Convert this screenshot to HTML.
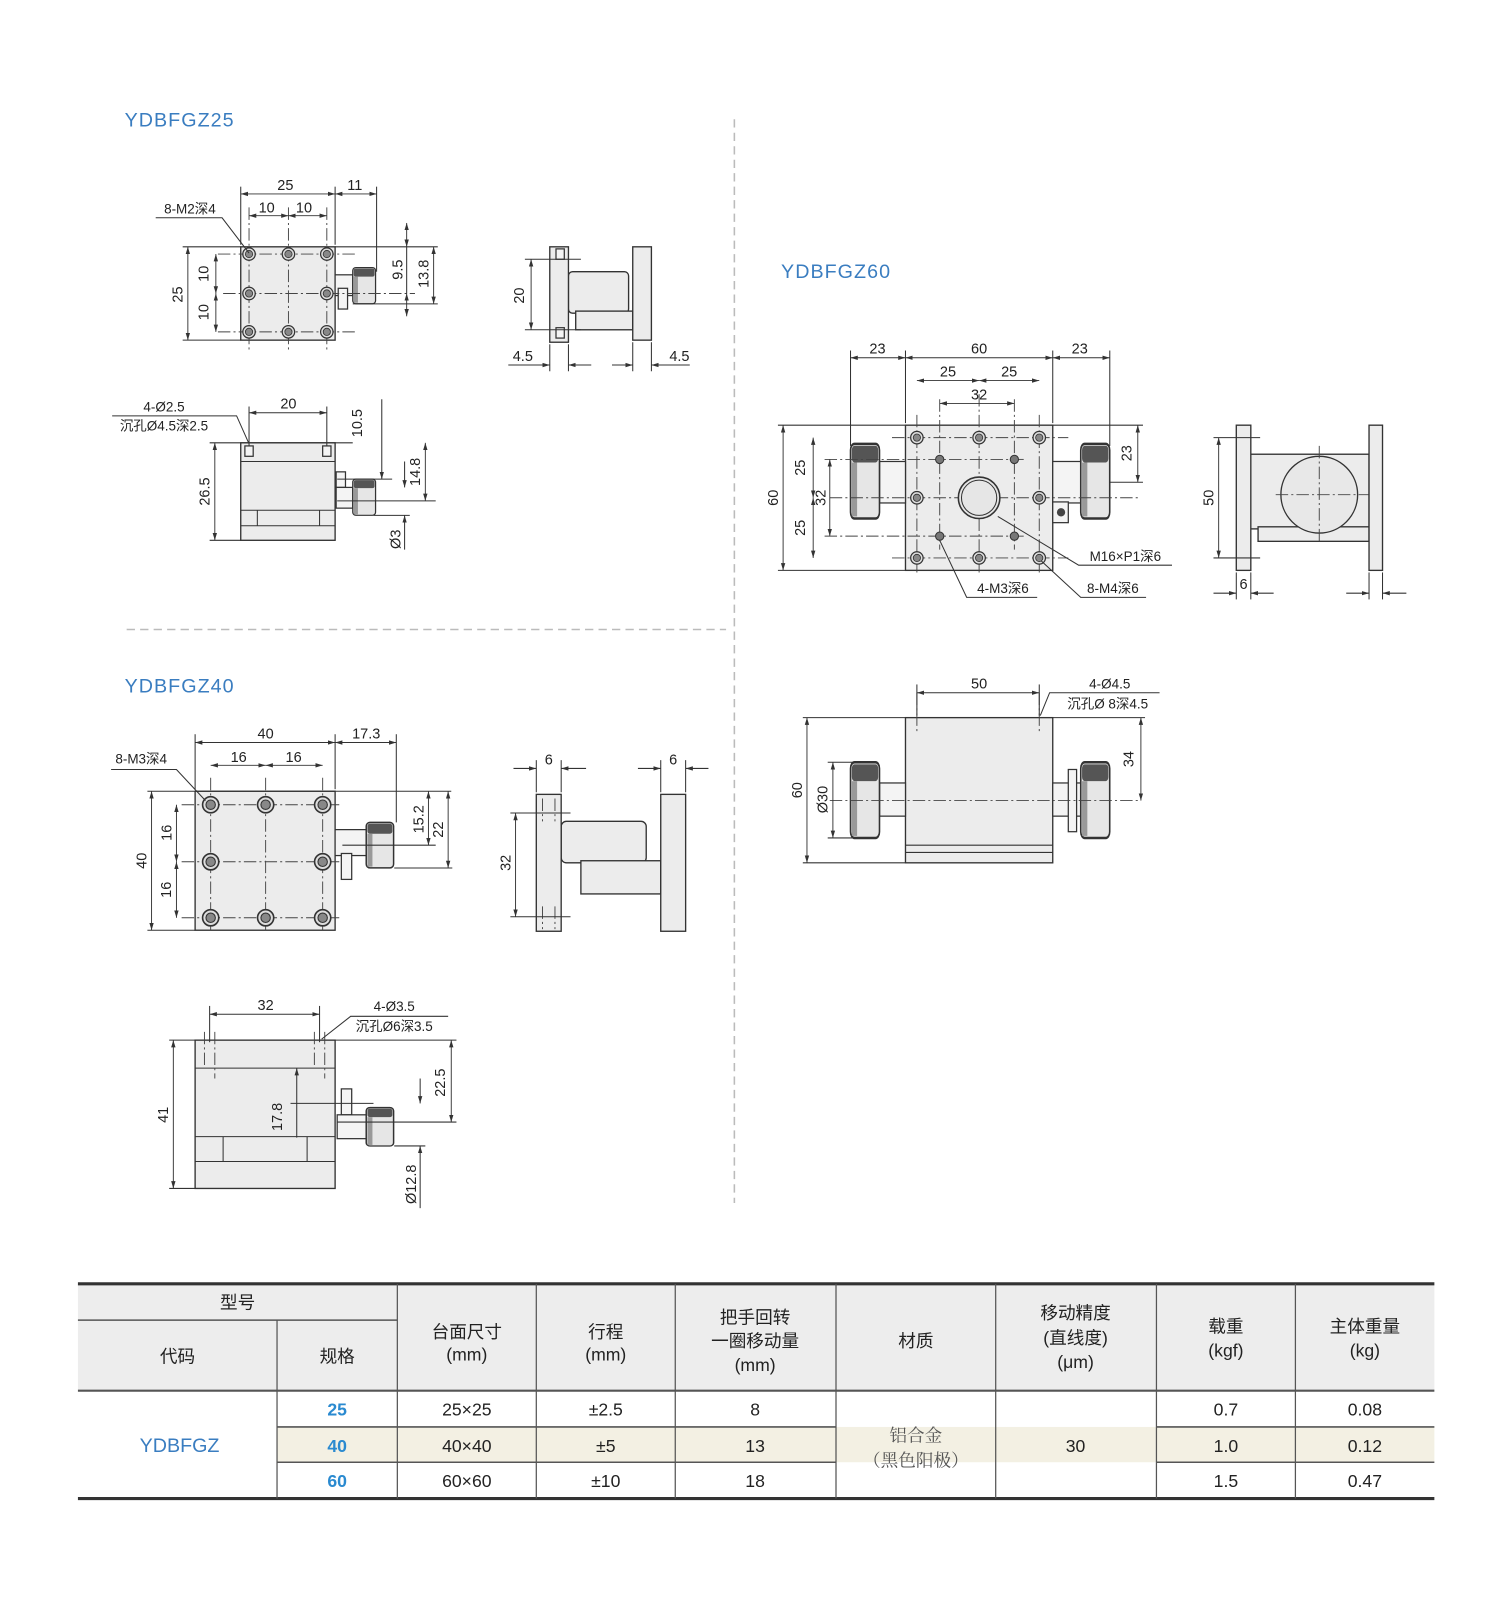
<!DOCTYPE html>
<html><head><meta charset="utf-8"><style>
html,body{margin:0;padding:0;background:#fff;}
svg{display:block;}
text{font-family:"Liberation Sans","Noto Sans CJK SC",sans-serif;fill:#222;}
.b{fill:#ececec;stroke:#333;stroke-width:1.3;}
.w{fill:#f4f4f4;stroke:#333;stroke-width:1.2;}
.l{stroke:#333;stroke-width:1;fill:none;}
.d{stroke:#333;stroke-width:0.9;fill:none;marker-start:url(#a);marker-end:url(#a);}
.c{stroke:#444;stroke-width:0.9;fill:none;stroke-dasharray:12 3 2 3;}
.t{font-size:14px;text-anchor:middle;}
.ti{font-size:19px;fill:#3a7dc0;letter-spacing:1px;}
.h{fill:#e4e4e4;stroke:#333;stroke-width:1.3;}
.th{font-size:17px;text-anchor:middle;}
</style></head><body>
<svg width="1504" height="1624" viewBox="0 0 1450 1566" xmlns="http://www.w3.org/2000/svg">
<defs>
<marker id="a" viewBox="0 0 10 10" refX="10" refY="5" markerWidth="7" markerHeight="7" orient="auto-start-reverse" markerUnits="userSpaceOnUse"><path d="M0,2 L10,5 L0,8 z" fill="#333"/></marker>
<g id="knob"><rect x="0" y="0" width="22" height="36" rx="3" fill="#e6e6e6" stroke="#333" stroke-width="1.2"/><rect x="1" y="1" width="20" height="8" rx="2" fill="#555"/><rect x="1" y="9" width="4" height="26" fill="#999"/></g>
<g id="hole"><circle r="6" fill="#ddd" stroke="#333" stroke-width="1.2"/><circle r="3.5" fill="#888" stroke="#333" stroke-width="0.8"/></g>
</defs>

<!-- separators -->
<line x1="122" y1="607" x2="700" y2="607" stroke="#bbb" stroke-width="1.5" stroke-dasharray="8 5"/>
<line x1="708" y1="115" x2="708" y2="1160" stroke="#bbb" stroke-width="1.5" stroke-dasharray="8 5"/>

<!-- ================= YDBFGZ25 ================= -->
<text class="ti" x="120" y="122">YDBFGZ25</text>
<!-- top view -->
<rect class="b" x="232" y="238" width="91" height="90"/>
<rect class="w" x="323" y="265" width="17" height="20"/>
<use href="#knob" transform="translate(340,258) scale(1,0.97)"/>
<rect class="w" x="326" y="278" width="9" height="20"/>
<line class="c" x1="210" y1="245" x2="345" y2="245"/><line class="c" x1="210" y1="320" x2="345" y2="320"/>
<line class="c" x1="215" y1="283" x2="400" y2="283"/>
<line class="c" x1="240" y1="200" x2="240" y2="340"/><line class="c" x1="278" y1="200" x2="278" y2="340"/><line class="c" x1="315" y1="200" x2="315" y2="340"/>
<use href="#hole" x="240" y="245"/><use href="#hole" x="278" y="245"/><use href="#hole" x="315" y="245"/>
<use href="#hole" x="240" y="283"/><use href="#hole" x="315" y="283"/>
<use href="#hole" x="240" y="320"/><use href="#hole" x="278" y="320"/><use href="#hole" x="315" y="320"/>
<line class="l" x1="232" y1="180" x2="232" y2="236"/><line class="l" x1="323" y1="180" x2="323" y2="236"/><line class="l" x1="363" y1="180" x2="363" y2="262"/>
<line class="d" x1="232" y1="187" x2="323" y2="187"/><line class="d" x1="323" y1="187" x2="363" y2="187"/>
<text class="t" x="275" y="183">25</text><text class="t" x="342" y="183">11</text>
<line class="d" x1="240" y1="208" x2="278" y2="208"/><line class="d" x1="278" y1="208" x2="315" y2="208"/>
<text class="t" x="257" y="205">10</text><text class="t" x="293" y="205">10</text>
<text class="t" x="183" y="206" style="font-size:13px">8-M2深4</text>
<polyline class="l" points="150,210 214,210 240,244"/>
<line class="l" x1="176" y1="238" x2="232" y2="238"/><line class="l" x1="176" y1="328" x2="232" y2="328"/>
<line class="d" x1="181" y1="238" x2="181" y2="328"/>
<text class="t" transform="rotate(-90 176 284)" x="176" y="284">25</text>
<line class="d" x1="208" y1="245" x2="208" y2="283"/><line class="d" x1="208" y1="283" x2="208" y2="320"/>
<text class="t" transform="rotate(-90 201 264)" x="201" y="264">10</text><text class="t" transform="rotate(-90 201 301)" x="201" y="301">10</text>
<line class="l" x1="323" y1="238" x2="422" y2="238"/><line class="l" x1="340" y1="293" x2="422" y2="293"/>
<line class="d" x1="392" y1="215" x2="392" y2="238"/><line class="d" x1="392" y1="305" x2="392" y2="283"/><line class="l" x1="392" y1="238" x2="392" y2="283"/>
<line class="d" x1="418" y1="238" x2="418" y2="293"/>
<text class="t" transform="rotate(-90 388 260)" x="388" y="260">9.5</text><text class="t" transform="rotate(-90 413 264)" x="413" y="264">13.8</text>
<!-- side view -->
<rect class="b" x="548" y="262" width="58" height="40" rx="4"/>
<rect class="b" x="555" y="300" width="55" height="18"/>
<rect class="b" x="530" y="238" width="18" height="92"/>
<rect class="w" x="536" y="240" width="8" height="10"/><rect class="w" x="536" y="316" width="8" height="10"/>
<rect class="b" x="610" y="238" width="18" height="90"/>
<line class="l" x1="506" y1="250" x2="560" y2="250"/><line class="l" x1="506" y1="318" x2="560" y2="318"/>
<line class="d" x1="512" y1="250" x2="512" y2="318"/>
<text class="t" transform="rotate(-90 505 285)" x="505" y="285">20</text>
<line class="l" x1="530" y1="332" x2="530" y2="358"/><line class="l" x1="548" y1="332" x2="548" y2="358"/>
<line class="l" x1="610" y1="330" x2="610" y2="358"/><line class="l" x1="628" y1="330" x2="628" y2="358"/>
<line class="l" x1="490" y1="352" x2="530" y2="352" marker-end="url(#a)"/><line class="l" x1="570" y1="352" x2="548" y2="352" marker-end="url(#a)"/>
<line class="l" x1="590" y1="352" x2="610" y2="352" marker-end="url(#a)"/><line class="l" x1="665" y1="352" x2="628" y2="352" marker-end="url(#a)"/>
<text class="t" x="504" y="348">4.5</text><text class="t" x="655" y="348">4.5</text>
<!-- front view -->
<rect class="b" x="232" y="427" width="91" height="94"/>
<line class="l" x1="232" y1="445" x2="323" y2="445"/><line class="l" x1="232" y1="492" x2="323" y2="492"/><line class="l" x1="232" y1="507" x2="323" y2="507"/>
<line class="l" x1="248" y1="492" x2="248" y2="507"/><line class="l" x1="308" y1="492" x2="308" y2="507"/>
<rect class="w" x="236" y="430" width="8" height="10"/><rect class="w" x="311" y="430" width="8" height="10"/>
<rect class="w" x="324" y="455" width="9" height="15"/><rect class="w" x="324" y="470" width="16" height="20"/>
<use href="#knob" transform="translate(340,462) scale(1,0.97)"/>
<line class="d" x1="240" y1="398" x2="315" y2="398"/><text class="t" x="278" y="394">20</text>
<line class="l" x1="240" y1="392" x2="240" y2="430"/><line class="l" x1="315" y1="392" x2="315" y2="430"/>
<text class="t" x="158" y="397" style="font-size:13px">4-Ø2.5</text><text class="t" x="158" y="415" style="font-size:13px">沉孔Ø4.5深2.5</text>
<polyline class="l" points="108,401 228,401 240,428"/>
<line class="l" x1="202" y1="427" x2="340" y2="427"/><line class="l" x1="202" y1="521" x2="232" y2="521"/>
<line class="d" x1="207" y1="427" x2="207" y2="521"/><text class="t" transform="rotate(-90 202 474)" x="202" y="474">26.5</text>
<line class="l" x1="325" y1="462" x2="378" y2="462"/><line class="l" x1="325" y1="483" x2="420" y2="483"/><line class="l" x1="360" y1="497" x2="395" y2="497"/>
<line class="l" x1="368" y1="385" x2="368" y2="462" marker-end="url(#a)"/>
<text class="t" transform="rotate(-90 349 408)" x="349" y="408">10.5</text>
<line class="d" x1="410" y1="427" x2="410" y2="483"/><text class="t" transform="rotate(-90 405 455)" x="405" y="455">14.8</text>
<line class="l" x1="390" y1="445" x2="390" y2="470" marker-end="url(#a)"/><line class="l" x1="390" y1="530" x2="390" y2="497" marker-end="url(#a)"/>
<text class="t" transform="rotate(-90 386 520)" x="386" y="520">Ø3</text>

<!-- ================= YDBFGZ40 ================= -->
<text class="ti" x="120" y="668">YDBFGZ40</text>
<rect class="b" x="188" y="763" width="135" height="134"/>
<rect class="w" x="323" y="800" width="30" height="25"/>
<use href="#knob" transform="translate(353,793) scale(1.2,1.22)"/>
<rect class="w" x="329" y="823" width="10" height="25"/>
<line class="c" x1="175" y1="776" x2="330" y2="776"/><line class="c" x1="175" y1="831" x2="330" y2="831"/><line class="c" x1="175" y1="885" x2="330" y2="885"/>
<line class="c" x1="203" y1="750" x2="203" y2="897"/><line class="c" x1="256" y1="750" x2="256" y2="897"/><line class="c" x1="311" y1="750" x2="311" y2="897"/>
<g transform="translate(0,0)">
<use href="#hole" transform="translate(203,776) scale(1.3)"/><use href="#hole" transform="translate(256,776) scale(1.3)"/><use href="#hole" transform="translate(311,776) scale(1.3)"/>
<use href="#hole" transform="translate(203,831) scale(1.3)"/><use href="#hole" transform="translate(311,831) scale(1.3)"/>
<use href="#hole" transform="translate(203,885) scale(1.3)"/><use href="#hole" transform="translate(256,885) scale(1.3)"/><use href="#hole" transform="translate(311,885) scale(1.3)"/>
</g>
<line class="l" x1="188" y1="708" x2="188" y2="761"/><line class="l" x1="323" y1="708" x2="323" y2="761"/><line class="l" x1="382" y1="708" x2="382" y2="793"/>
<line class="d" x1="188" y1="716" x2="323" y2="716"/><line class="d" x1="323" y1="716" x2="382" y2="716"/>
<text class="t" x="256" y="712">40</text><text class="t" x="353" y="712">17.3</text>
<line class="d" x1="203" y1="738" x2="256" y2="738"/><line class="d" x1="256" y1="738" x2="311" y2="738"/>
<text class="t" x="230" y="735">16</text><text class="t" x="283" y="735">16</text>
<text class="t" x="136" y="736" style="font-size:13px">8-M3深4</text>
<polyline class="l" points="107,742 170,742 198,772"/>
<line class="l" x1="142" y1="763" x2="435" y2="763"/><line class="l" x1="142" y1="897" x2="188" y2="897"/>
<line class="d" x1="146" y1="763" x2="146" y2="897"/><text class="t" transform="rotate(-90 141 830)" x="141" y="830">40</text>
<line class="d" x1="170" y1="776" x2="170" y2="831"/><line class="d" x1="170" y1="831" x2="170" y2="885"/>
<text class="t" transform="rotate(-90 165 803)" x="165" y="803">16</text><text class="t" transform="rotate(-90 165 858)" x="165" y="858">16</text>
<line class="l" x1="330" y1="815" x2="420" y2="815"/><line class="l" x1="380" y1="837" x2="436" y2="837"/>
<line class="d" x1="413" y1="763" x2="413" y2="815"/><line class="d" x1="432" y1="763" x2="432" y2="837"/>
<text class="t" transform="rotate(-90 408 790)" x="408" y="790">15.2</text><text class="t" transform="rotate(-90 427 800)" x="427" y="800">22</text>
<!-- side 40 -->
<rect class="b" x="541" y="792" width="82" height="40" rx="5"/>
<rect class="b" x="560" y="830" width="77" height="32"/>
<rect class="b" x="517" y="766" width="24" height="132"/>
<rect class="b" x="637" y="766" width="24" height="132"/>
<line class="c" x1="523" y1="770" x2="523" y2="792"/><line class="c" x1="535" y1="770" x2="535" y2="792"/>
<line class="c" x1="523" y1="874" x2="523" y2="896"/><line class="c" x1="535" y1="874" x2="535" y2="896"/>
<line class="l" x1="492" y1="784" x2="550" y2="784"/><line class="l" x1="492" y1="884" x2="550" y2="884"/>
<line class="d" x1="497" y1="784" x2="497" y2="884"/><text class="t" transform="rotate(-90 492 832)" x="492" y="832">32</text>
<line class="l" x1="517" y1="733" x2="517" y2="764"/><line class="l" x1="541" y1="733" x2="541" y2="764"/>
<line class="l" x1="637" y1="733" x2="637" y2="764"/><line class="l" x1="661" y1="733" x2="661" y2="764"/>
<line class="l" x1="495" y1="741" x2="517" y2="741" marker-end="url(#a)"/><line class="l" x1="565" y1="741" x2="541" y2="741" marker-end="url(#a)"/>
<line class="l" x1="615" y1="741" x2="637" y2="741" marker-end="url(#a)"/><line class="l" x1="683" y1="741" x2="661" y2="741" marker-end="url(#a)"/>
<text class="t" x="529" y="737">6</text><text class="t" x="649" y="737">6</text>
<!-- front 40 -->
<rect class="b" x="188" y="1003" width="135" height="143"/>
<line class="l" x1="188" y1="1030" x2="323" y2="1030"/><line class="l" x1="188" y1="1096" x2="323" y2="1096"/><line class="l" x1="188" y1="1120" x2="323" y2="1120"/>
<line class="l" x1="215" y1="1096" x2="215" y2="1120"/><line class="l" x1="296" y1="1096" x2="296" y2="1120"/>
<line class="c" x1="197" y1="995" x2="197" y2="1030"/><line class="c" x1="207" y1="995" x2="207" y2="1040"/>
<line class="c" x1="303" y1="995" x2="303" y2="1030"/><line class="c" x1="313" y1="995" x2="313" y2="1040"/>
<rect class="w" x="329" y="1050" width="10" height="25"/><rect class="w" x="325" y="1075" width="28" height="23"/>
<use href="#knob" transform="translate(353,1068) scale(1.2,1.03)"/>
<line class="l" x1="202" y1="970" x2="202" y2="1005"/><line class="l" x1="308" y1="970" x2="308" y2="1005"/>
<line class="d" x1="202" y1="978" x2="308" y2="978"/><text class="t" x="256" y="974">32</text>
<text class="t" x="380" y="975" style="font-size:13px">4-Ø3.5</text><text class="t" x="380" y="994" style="font-size:13px">沉孔Ø6深3.5</text>
<polyline class="l" points="432,980 338,980 310,1002"/>
<line class="l" x1="163" y1="1003" x2="188" y2="1003"/><line class="l" x1="323" y1="1003" x2="440" y2="1003"/><line class="l" x1="163" y1="1146" x2="188" y2="1146"/>
<line class="d" x1="167" y1="1003" x2="167" y2="1146"/><text class="t" transform="rotate(-90 162 1075)" x="162" y="1075">41</text>
<line class="l" x1="286" y1="1030" x2="286" y2="1097" marker-start="url(#a)"/><line class="l" x1="280" y1="1064" x2="360" y2="1064"/>
<text class="t" transform="rotate(-90 272 1077)" x="272" y="1077">17.8</text>
<line class="l" x1="325" y1="1082" x2="440" y2="1082"/><line class="l" x1="380" y1="1105" x2="410" y2="1105"/>
<line class="d" x1="435" y1="1003" x2="435" y2="1082"/><text class="t" transform="rotate(-90 429 1044)" x="429" y="1044">22.5</text>
<line class="l" x1="405" y1="1040" x2="405" y2="1064" marker-end="url(#a)"/><line class="l" x1="405" y1="1165" x2="405" y2="1105" marker-end="url(#a)"/>
<text class="t" transform="rotate(-90 401 1142)" x="401" y="1142">Ø12.8</text>

<!-- ================= YDBFGZ60 ================= -->
<text class="ti" x="753" y="268">YDBFGZ60</text>
<rect class="b" x="873" y="410" width="142" height="140"/>
<rect class="w" x="848" y="445" width="25" height="40"/><rect class="w" x="1015" y="445" width="27" height="40"/>
<use href="#knob" transform="translate(820,428) scale(1.27,2)"/>
<use href="#knob" transform="translate(1042,428) scale(1.27,2)"/>
<rect class="w" x="1015" y="484" width="15" height="20"/><circle cx="1023" cy="494" r="4" fill="#444"/>
<line class="c" x1="860" y1="422" x2="1030" y2="422"/><line class="c" x1="860" y1="538" x2="1030" y2="538"/>
<line class="c" x1="800" y1="480" x2="1100" y2="480"/>
<line class="c" x1="884" y1="400" x2="884" y2="555"/><line class="c" x1="944" y1="380" x2="944" y2="555"/><line class="c" x1="1002" y1="400" x2="1002" y2="555"/>
<line class="c" x1="795" y1="443" x2="990" y2="443"/><line class="c" x1="795" y1="517" x2="990" y2="517"/>
<line class="c" x1="906" y1="385" x2="906" y2="530"/><line class="c" x1="978" y1="385" x2="978" y2="530"/>
<circle cx="944" cy="480" r="20" fill="#e6e6e6" stroke="#333" stroke-width="1.5"/><circle cx="944" cy="480" r="17" fill="none" stroke="#333" stroke-width="1"/>
<use href="#hole" x="884" y="422"/><use href="#hole" x="944" y="422"/><use href="#hole" x="1002" y="422"/>
<use href="#hole" x="884" y="480"/><use href="#hole" x="1002" y="480"/>
<use href="#hole" x="884" y="538"/><use href="#hole" x="944" y="538"/><use href="#hole" x="1002" y="538"/>
<circle cx="906" cy="443" r="4" fill="#777" stroke="#333"/><circle cx="978" cy="443" r="4" fill="#777" stroke="#333"/>
<circle cx="906" cy="517" r="4" fill="#777" stroke="#333"/><circle cx="978" cy="517" r="4" fill="#777" stroke="#333"/>
<line class="l" x1="820" y1="338" x2="820" y2="430"/><line class="l" x1="873" y1="338" x2="873" y2="408"/><line class="l" x1="1015" y1="338" x2="1015" y2="408"/><line class="l" x1="1070" y1="338" x2="1070" y2="430"/>
<line class="d" x1="820" y1="345" x2="873" y2="345"/><line class="d" x1="873" y1="345" x2="1015" y2="345"/><line class="d" x1="1015" y1="345" x2="1070" y2="345"/>
<text class="t" x="846" y="341">23</text><text class="t" x="944" y="341">60</text><text class="t" x="1041" y="341">23</text>
<line class="d" x1="884" y1="367" x2="944" y2="367"/><line class="d" x1="944" y1="367" x2="1002" y2="367"/>
<text class="t" x="914" y="363">25</text><text class="t" x="973" y="363">25</text>
<line class="d" x1="906" y1="389" x2="978" y2="389"/><text class="t" x="944" y="385">32</text>
<line class="l" x1="750" y1="410" x2="873" y2="410"/><line class="l" x1="750" y1="550" x2="873" y2="550"/><line class="l" x1="1015" y1="410" x2="1102" y2="410"/>
<line class="d" x1="755" y1="410" x2="755" y2="550"/><text class="t" transform="rotate(-90 750 480)" x="750" y="480">60</text>
<line class="d" x1="784" y1="422" x2="784" y2="480"/><line class="d" x1="784" y1="480" x2="784" y2="538"/>
<text class="t" transform="rotate(-90 776 451)" x="776" y="451">25</text><text class="t" transform="rotate(-90 776 509)" x="776" y="509">25</text>
<line class="d" x1="800" y1="443" x2="800" y2="517"/><text class="t" transform="rotate(-90 796 480)" x="796" y="480">32</text>
<line class="l" x1="1070" y1="465" x2="1102" y2="465"/>
<line class="d" x1="1097" y1="410" x2="1097" y2="465"/><text class="t" transform="rotate(-90 1091 437)" x="1091" y="437">23</text>
<polyline class="l" points="962,498 1040,545 1130,545"/><text class="t" x="1085" y="541" style="font-size:13px">M16×P1深6</text>
<polyline class="l" points="906,521 932,576 1000,576"/><text class="t" x="967" y="572" style="font-size:13px">4-M3深6</text>
<polyline class="l" points="1004,541 1042,576 1105,576"/><text class="t" x="1073" y="572" style="font-size:13px">8-M4深6</text>
<!-- side 60 -->
<rect class="b" x="1206" y="438" width="114" height="72"/>
<rect class="b" x="1213" y="508" width="107" height="14"/>
<circle cx="1272" cy="477" r="37" fill="#e8e8e8" stroke="#333" stroke-width="1.3"/>
<line class="c" x1="1230" y1="477" x2="1320" y2="477"/><line class="c" x1="1272" y1="430" x2="1272" y2="522"/>
<rect class="b" x="1192" y="410" width="14" height="140"/>
<rect class="b" x="1320" y="410" width="13" height="140"/>
<line class="l" x1="1170" y1="422" x2="1215" y2="422"/><line class="l" x1="1170" y1="538" x2="1215" y2="538"/>
<line class="d" x1="1175" y1="422" x2="1175" y2="538"/><text class="t" transform="rotate(-90 1170 480)" x="1170" y="480">50</text>
<line class="l" x1="1192" y1="552" x2="1192" y2="578"/><line class="l" x1="1206" y1="552" x2="1206" y2="578"/>
<line class="l" x1="1320" y1="552" x2="1320" y2="578"/><line class="l" x1="1333" y1="552" x2="1333" y2="578"/>
<line class="l" x1="1170" y1="572" x2="1192" y2="572" marker-end="url(#a)"/><line class="l" x1="1228" y1="572" x2="1206" y2="572" marker-end="url(#a)"/>
<line class="l" x1="1298" y1="572" x2="1320" y2="572" marker-end="url(#a)"/><line class="l" x1="1356" y1="572" x2="1333" y2="572" marker-end="url(#a)"/>
<text class="t" x="1199" y="568">6</text>
<!-- front 60 -->
<rect class="b" x="873" y="692" width="142" height="140"/>
<line class="l" x1="873" y1="815" x2="1015" y2="815"/><line class="l" x1="873" y1="822" x2="1015" y2="822"/>
<line class="c" x1="884" y1="668" x2="884" y2="705"/><line class="c" x1="1002" y1="668" x2="1002" y2="705"/>
<rect class="w" x="848" y="755" width="25" height="32"/><rect class="w" x="1015" y="755" width="27" height="32"/>
<rect class="w" x="1030" y="742" width="8" height="60"/>
<use href="#knob" transform="translate(820,735) scale(1.27,2.03)"/>
<use href="#knob" transform="translate(1042,735) scale(1.27,2.03)"/>
<line class="c" x1="800" y1="772" x2="1100" y2="772"/>
<line class="l" x1="884" y1="660" x2="884" y2="690"/><line class="l" x1="1002" y1="660" x2="1002" y2="690"/>
<line class="d" x1="884" y1="668" x2="1002" y2="668"/><text class="t" x="944" y="664">50</text>
<text class="t" x="1070" y="664" style="font-size:13px">4-Ø4.5</text><text class="t" x="1068" y="683" style="font-size:13px">沉孔Ø 8深4.5</text>
<polyline class="l" points="1118,668 1012,668 1003,690"/>
<line class="l" x1="774" y1="692" x2="873" y2="692"/><line class="l" x1="774" y1="832" x2="873" y2="832"/><line class="l" x1="1015" y1="692" x2="1104" y2="692"/>
<line class="d" x1="778" y1="692" x2="778" y2="832"/><text class="t" transform="rotate(-90 773 762)" x="773" y="762">60</text>
<line class="l" x1="798" y1="735" x2="830" y2="735"/><line class="l" x1="798" y1="808" x2="830" y2="808"/>
<line class="d" x1="803" y1="735" x2="803" y2="808"/><text class="t" transform="rotate(-90 798 771)" x="798" y="771">Ø30</text>
<line class="d" x1="1100" y1="692" x2="1100" y2="772"/><text class="t" transform="rotate(-90 1093 732)" x="1093" y="732">34</text>

<!-- ================= TABLE ================= -->
<rect x="75" y="1238" width="1308" height="103" fill="#ededed"/>
<rect x="267" y="1376" width="1116" height="34" fill="#f3f0e3"/>
<line x1="75" y1="1238" x2="1383" y2="1238" stroke="#333" stroke-width="3"/>
<line x1="75" y1="1273" x2="383" y2="1273" stroke="#555" stroke-width="1.5"/>
<line x1="75" y1="1341" x2="1383" y2="1341" stroke="#555" stroke-width="2"/>
<line x1="267" y1="1376" x2="806" y2="1376" stroke="#555" stroke-width="1.5"/><line x1="1115" y1="1376" x2="1383" y2="1376" stroke="#555" stroke-width="1.5"/>
<line x1="267" y1="1410" x2="806" y2="1410" stroke="#555" stroke-width="1.5"/><line x1="1115" y1="1410" x2="1383" y2="1410" stroke="#555" stroke-width="1.5"/>
<line x1="75" y1="1445" x2="1383" y2="1445" stroke="#333" stroke-width="3"/>
<g stroke="#555" stroke-width="1.2">
<line x1="267" y1="1273" x2="267" y2="1445"/><line x1="383" y1="1238" x2="383" y2="1445"/>
<line x1="517" y1="1238" x2="517" y2="1445"/><line x1="651" y1="1238" x2="651" y2="1445"/>
<line x1="806" y1="1238" x2="806" y2="1445"/><line x1="960" y1="1238" x2="960" y2="1445"/>
<line x1="1115" y1="1238" x2="1115" y2="1445"/><line x1="1249" y1="1238" x2="1249" y2="1445"/>
</g>
<text class="th" x="229" y="1262">型号</text>
<text class="th" x="171" y="1314">代码</text><text class="th" x="325" y="1314">规格</text>
<text class="th" x="450" y="1290">台面尺寸</text><text class="th" x="450" y="1312">(mm)</text>
<text class="th" x="584" y="1290">行程</text><text class="th" x="584" y="1312">(mm)</text>
<text class="th" x="728" y="1276">把手回转</text><text class="th" x="728" y="1299">一圈移动量</text><text class="th" x="728" y="1322">(mm)</text>
<text class="th" x="883" y="1299">材质</text>
<text class="th" x="1037" y="1272">移动精度</text><text class="th" x="1037" y="1296">(直线度)</text><text class="th" x="1037" y="1319">(μm)</text>
<text class="th" x="1182" y="1285">载重</text><text class="th" x="1182" y="1308">(kgf)</text>
<text class="th" x="1316" y="1285">主体重量</text><text class="th" x="1316" y="1308">(kg)</text>
<text class="th" x="173" y="1400" style="fill:#3a7dc0;font-size:19px">YDBFGZ</text>
<g class="th" style="font-weight:bold">
<text class="th" x="325" y="1365" style="fill:#2a8ad0;font-weight:bold">25</text>
<text class="th" x="325" y="1400" style="fill:#2a8ad0;font-weight:bold">40</text>
<text class="th" x="325" y="1434" style="fill:#2a8ad0;font-weight:bold">60</text>
</g>
<text class="th" x="450" y="1365">25×25</text><text class="th" x="450" y="1400">40×40</text><text class="th" x="450" y="1434">60×60</text>
<text class="th" x="584" y="1365">±2.5</text><text class="th" x="584" y="1400">±5</text><text class="th" x="584" y="1434">±10</text>
<text class="th" x="728" y="1365">8</text><text class="th" x="728" y="1400">13</text><text class="th" x="728" y="1434">18</text>
<text class="th" x="883" y="1390" style="font-family:'Noto Serif CJK SC',serif;fill:#555">铝合金</text>
<text class="th" x="883" y="1414" style="font-family:'Noto Serif CJK SC',serif;fill:#555">（黑色阳极）</text>
<text class="th" x="1037" y="1400">30</text>
<text class="th" x="1182" y="1365">0.7</text><text class="th" x="1182" y="1400">1.0</text><text class="th" x="1182" y="1434">1.5</text>
<text class="th" x="1316" y="1365">0.08</text><text class="th" x="1316" y="1400">0.12</text><text class="th" x="1316" y="1434">0.47</text>
</svg>
</body></html>
